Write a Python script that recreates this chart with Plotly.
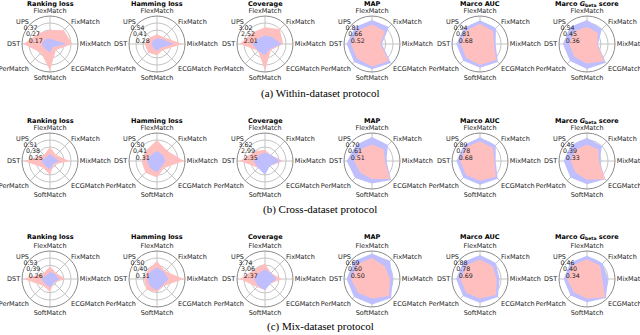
import plotly.graph_objects as go

methods = ["FlexMatch", "FixMatch", "MixMatch", "ECGMatch", "SoftMatch", "PerMatch", "DST", "UPS"]
metrics = ["Ranking loss", "Hamming loss", "Coverage", "MAP", "Marco AUC",
           "Marco <i>G</i><sub>beta</sub> score"]
captions = ["(a) Within-dataset protocol", "(b) Cross-dataset protocol", "(c) Mix-dataset protocol"]

# radial tick labels per panel
within_ticks = [[0.17, 0.27, 0.37], [0.28, 0.41, 0.54], [2.01, 2.52, 3.02],
                [0.52, 0.66, 0.81], [0.68, 0.81, 0.94], [0.36, 0.45, 0.54]]
cross_ticks = [[0.25, 0.38, 0.51], [0.31, 0.41, 0.50], [2.35, 2.99, 3.62],
               [0.51, 0.61, 0.70], [0.68, 0.78, 0.89], [0.33, 0.39, 0.45]]
mix_ticks = [[0.26, 0.39, 0.53], [0.31, 0.40, 0.50], [2.37, 3.06, 3.74],
             [0.50, 0.60, 0.69], [0.69, 0.78, 0.88], [0.34, 0.40, 0.46]]

# red series (baselines) and blue series, order follows `methods`
within_red = [
    [0.27, 0.35, 0.39, 0.19, 0.45, 0.25, 0.45, 0.29],
    [0.33, 0.33, 0.62, 0.31, 0.36, 0.38, 0.38, 0.33],
    [2.72, 3.02, 2.82, 2.11, 3.42, 2.21, 3.32, 2.72],
    [0.78, 0.75, 0.55, 0.87, 0.84, 0.81, 0.81, 0.78],
    [0.92, 0.89, 0.81, 0.97, 0.94, 0.91, 0.91, 0.91],
    [0.49, 0.47, 0.40, 0.58, 0.52, 0.50, 0.50, 0.50],
]
within_blue = [
    [0.15, 0.15, 0.31, 0.13, 0.19, 0.17, 0.19, 0.17],
    [0.25, 0.28, 0.46, 0.25, 0.28, 0.25, 0.25, 0.25],
    [2.11, 2.21, 2.72, 2.01, 2.31, 2.21, 2.41, 2.11],
    [0.87, 0.87, 0.58, 0.93, 0.90, 0.90, 0.90, 0.87],
    [0.99, 0.97, 0.84, 1.02, 0.99, 0.99, 0.99, 0.97],
    [0.58, 0.54, 0.41, 0.61, 0.59, 0.58, 0.58, 0.58],
]
cross_red = [
    [0.38, 0.28, 0.48, 0.22, 0.38, 0.30, 0.61, 0.28],
    [0.50, 0.41, 0.58, 0.35, 0.44, 0.44, 0.42, 0.42],
    [2.73, 2.48, 3.37, 2.35, 2.60, 2.60, 4.00, 2.99],
    [0.64, 0.64, 0.59, 0.76, 0.66, 0.64, 0.66, 0.64],
    [0.87, 0.85, 0.79, 0.91, 0.87, 0.87, 0.87, 0.87],
    [0.41, 0.41, 0.37, 0.49, 0.43, 0.41, 0.41, 0.41],
]
cross_blue = [
    [0.25, 0.22, 0.30, 0.20, 0.28, 0.25, 0.28, 0.22],
    [0.35, 0.33, 0.33, 0.31, 0.37, 0.35, 0.35, 0.33],
    [2.48, 2.48, 3.11, 2.35, 2.99, 2.60, 2.73, 2.48],
    [0.74, 0.72, 0.61, 0.78, 0.72, 0.74, 0.76, 0.72],
    [0.93, 0.91, 0.81, 0.95, 0.93, 0.93, 0.93, 0.91],
    [0.47, 0.45, 0.38, 0.49, 0.47, 0.47, 0.47, 0.46],
]
mix_red = [
    [0.37, 0.29, 0.42, 0.23, 0.37, 0.31, 0.64, 0.29],
    [0.46, 0.37, 0.58, 0.35, 0.39, 0.42, 0.39, 0.39],
    [3.19, 2.51, 3.33, 2.37, 2.78, 2.78, 4.15, 3.06],
    [0.69, 0.65, 0.65, 0.73, 0.67, 0.67, 0.69, 0.69],
    [0.86, 0.84, 0.82, 0.90, 0.86, 0.86, 0.86, 0.86],
    [0.45, 0.44, 0.41, 0.50, 0.45, 0.44, 0.45, 0.45],
]
mix_blue = [
    [0.26, 0.26, 0.31, 0.23, 0.29, 0.26, 0.29, 0.23],
    [0.37, 0.35, 0.37, 0.33, 0.37, 0.35, 0.35, 0.35],
    [2.64, 2.51, 2.78, 2.37, 2.78, 2.64, 2.78, 2.51],
    [0.75, 0.75, 0.69, 0.77, 0.75, 0.75, 0.75, 0.75],
    [0.92, 0.90, 0.86, 0.94, 0.92, 0.92, 0.92, 0.92],
    [0.48, 0.47, 0.46, 0.51, 0.48, 0.48, 0.48, 0.48],
]

rows = [(within_ticks, within_red, within_blue),
        (cross_ticks, cross_red, cross_blue),
        (mix_ticks, mix_red, mix_blue)]

W, H = 640, 335
col_cx = [50, 157, 265, 372, 480, 587]
row_cy = [44, 161, 279]
title_y = [4, 121, 237]
caption_y = [93, 209, 326]
R = 28
RED = "rgb(255,191,191)"
BLUE = "rgb(191,191,255)"
ang_font = dict(family="DejaVu Sans", size=6.5, color="#222")
rad_font = dict(family="DejaVu Sans", size=6.3, color="#222")

fig = go.Figure()
layout = {}
annotations = []
k = 0
for r, (ticks, red, blue) in enumerate(rows):
    for c in range(6):
        k += 1
        name = "polar" if k == 1 else f"polar{k}"
        t = ticks[c]
        d = (t[2] - t[0]) / 2
        traces = [("red", red[c], RED), ("blue", blue[c], BLUE)]
        if c >= 3:
            traces = traces[::-1]  # larger polygon drawn first
        for nm, vals, col in traces:
            fig.add_trace(go.Scatterpolar(
                r=vals + vals[:1], theta=methods + methods[:1],
                mode="lines", fill="toself", fillcolor=col,
                line=dict(width=0, color=col), name=nm,
                showlegend=False, subplot=name,
            ))
        cx, cy = col_cx[c], row_cy[r]
        layout[name] = dict(
            domain=dict(x=[(cx - R) / W, (cx + R) / W],
                        y=[1 - (cy + R) / H, 1 - (cy - R) / H]),
            bgcolor="white",
            angularaxis=dict(direction="clockwise", rotation=90,
                             categoryorder="array", categoryarray=methods,
                             showline=True, linecolor="#8a8a8a", linewidth=1,
                             gridcolor="#c4c4c4", gridwidth=0.8,
                             ticks="", tickfont=ang_font,
                             layer="above traces"),
            radialaxis=dict(range=[t[0] - d, t[2] + d], tickvals=t,
                            ticktext=[f"{v:.2f}" for v in t],
                            angle=112.5, tickangle=112.5, side="counterclockwise",
                            showline=False, ticks="",
                            gridcolor="#c4c4c4", gridwidth=0.8,
                            tickfont=rad_font, layer="above traces"),
        )
        annotations.append(dict(
            text=f"<b>{metrics[c]}</b>", x=cx / W, y=1 - title_y[r] / H,
            xref="paper", yref="paper", showarrow=False,
            xanchor="center", yanchor="middle",
            font=dict(family="DejaVu Sans", size=6.5, color="black")))
    annotations.append(dict(
        text=captions[r], x=0.5, y=1 - caption_y[r] / H,
        xref="paper", yref="paper", showarrow=False,
        xanchor="center", yanchor="middle",
        font=dict(family="Liberation Serif", size=11, color="black")))

fig.update_layout(
    width=W, height=H, margin=dict(l=0, r=0, t=0, b=0),
    paper_bgcolor="white", plot_bgcolor="white",
    annotations=annotations, **layout,
)
fig.write_html("out.html", config={"displayModeBar": False},
               post_script="document.body.style.margin='0';")
